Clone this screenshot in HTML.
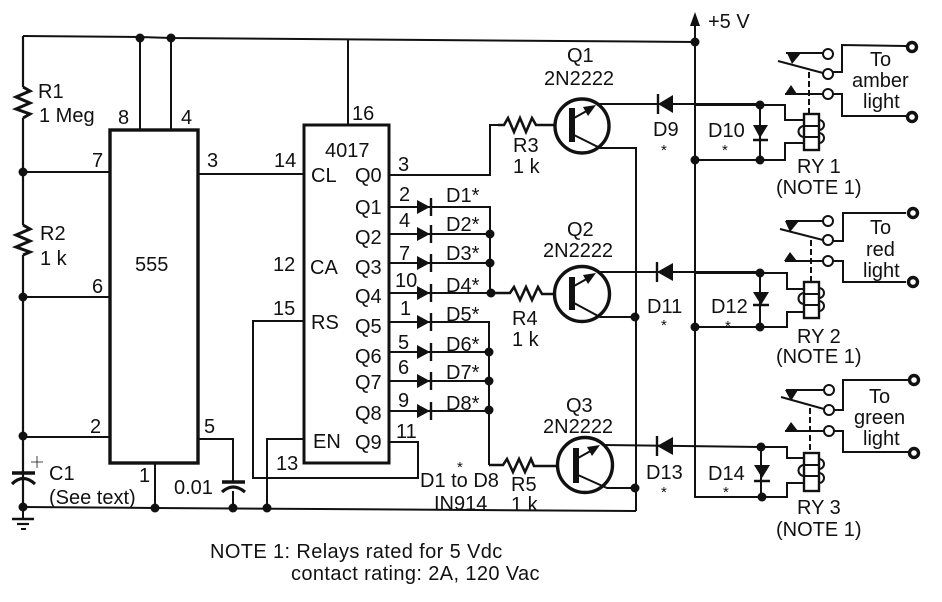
<!DOCTYPE html>
<html><head><meta charset="utf-8"><style>
html,body{margin:0;padding:0;background:#fff}
svg{display:block}
text{font-family:"Liberation Sans",sans-serif;font-size:20px;fill:#111}
.s{font-size:15px}
.n{letter-spacing:.38px}
</style></head><body>
<svg width="942" height="602" viewBox="0 0 942 602" xmlns="http://www.w3.org/2000/svg">
<g fill="none" stroke="#111" stroke-width="2">
<!-- rails -->
<path d="M23 36L140 37L171 38L695 42"/>
<path d="M23 36V87M23 118V225M23 255V507" stroke-width="2.2"/>
<path d="M23 507L155 508L636 511" />
<path d="M140 37V130M171 38V130M348 40V125"/>
<path d="M695 22V497H787V483H804" />
<path d="M636 147V511"/>
<!-- resistors -->
<path d="M23 87L30 91L16 97L30 103L16 109L30 114L23 118" stroke-width="3"/>
<path d="M23 225L30 229L16 235L30 241L16 247L30 252L23 255" stroke-width="3"/>
<path d="M498 125H504L508 118L514 132L520 118L526 132L532 118L536 125H556" stroke-width="2.6"/>
<path d="M490 293H510L514 287L520 300L526 287L532 300L538 287L542 294H556" stroke-width="2.6"/>
<path d="M489 465H503L507 459L513 472L519 459L525 472L531 459L534 466H558" stroke-width="2.6"/>
<!-- 555 -->
<rect x="110" y="130" width="88" height="333" stroke-width="3.4"/>
<path d="M23 172H110M23 297H110M23 437H110M198 174H304M198 439H233V481M233 491V508M155 463V508"/>
<!-- caps -->
<path d="M12 473H35" stroke-width="3.6"/>
<path d="M12 484Q23 473 35 484" stroke-width="3.2"/>
<path d="M222 482H245" stroke-width="3.6"/>
<path d="M222 492Q233 482 245 492" stroke-width="3.2"/>
<path d="M23 507V519" />
<path d="M12 519H34" stroke-width="2.6"/><path d="M17 524H29" stroke-width="2.2"/><path d="M21 529H26" stroke-width="2"/>
<path d="M31 462H43M37 456V468" stroke-width="0.8"/>
<!-- 4017 -->
<rect x="304" y="125" width="85" height="338" stroke-width="3"/>
<path d="M389 175H490V125H498"/>
<path d="M389 207H490V293M389 234H490M389 263H490M389 293H490"/>
<path d="M389 322H489V465M389 352H489M389 381H489M389 411H489"/>
<path d="M389 442H418V478H253V321H304"/>
<path d="M304 439H267V508"/>
<!-- transistors -->
<circle cx="582" cy="126" r="27" stroke-width="3.4"/>
<circle cx="582" cy="294" r="27.5" stroke-width="3.4"/>
<circle cx="585" cy="465" r="27.5" stroke-width="3.4"/>
<path d="M572 108V142M572 277V310M576 448V483" stroke-width="6"/>
<path d="M574 135L600 148H636M574 303L600 317H636M578 475L607 488H636"/>
<path d="M574 118L592 108M574 286L592 276M578 458L596 448"/>
<path d="M596 104H760M600 272H760M603 445L760 447"/>
<path d="M760 105V160M760 273V327M761 447V497"/>
</g>
<g fill="#111" stroke="none">
<!-- arrow -->
<path d="M695 12L700 26H690Z"/>
<!-- transistor arrows -->
<path d="M596 105L583 107L588 116Z"/>
<path d="M596 273L583 275L588 284Z"/>
<path d="M600 445L587 447L592 456Z"/>
<!-- 4017 diodes -->
<path d="M417 200L430 207L417 214Z M417 227L430 234L417 241Z M417 256L430 263L417 270Z M417 286L430 293L417 300Z M417 315L430 322L417 329Z M417 345L430 352L417 359Z M417 374L430 381L417 388Z M417 404L430 411L417 418Z"/>
<!-- D9 D11 D13 -->
<path d="M658 104L673 95V113Z M657 272L673 263V281Z M657 446L673 437V455Z"/>
<!-- D10 12 14 -->
<path d="M753 125H768L760 138Z M753 292H769L761 305Z M754 465H770L762 478Z"/>
<!-- dots -->
<circle cx="140" cy="38" r="4.5"/><circle cx="171" cy="38" r="4.5"/><circle cx="695" cy="42" r="4.5"/>
<circle cx="23" cy="172" r="4.5"/><circle cx="23" cy="297" r="4.5"/><circle cx="23" cy="436" r="4.5"/><circle cx="23" cy="507" r="4.5"/>
<circle cx="155" cy="508" r="4.5"/><circle cx="233" cy="508" r="4.5"/><circle cx="267" cy="508" r="4.5"/>
<circle cx="490" cy="234" r="4.5"/><circle cx="490" cy="263" r="4.5"/><circle cx="491" cy="293" r="4.5"/>
<circle cx="489" cy="352" r="4.5"/><circle cx="489" cy="381" r="4.5"/><circle cx="489" cy="410" r="4.5"/>
<circle cx="635" cy="317" r="4.5"/><circle cx="635" cy="488" r="4.5"/>
<circle cx="695" cy="160" r="4.5"/><circle cx="695" cy="327" r="4.5"/>
<circle cx="760" cy="105" r="4.5"/><circle cx="760" cy="160" r="4.5"/>
<circle cx="760" cy="273" r="4.5"/><circle cx="760" cy="327" r="4.5"/>
<circle cx="761" cy="447" r="4.5"/><circle cx="762" cy="497" r="4.5"/>
</g>
<g fill="none" stroke="#111" stroke-width="2.4">
<!-- diode bars -->
<path d="M431 198V216M431 225V243M431 254V272M431 284V302M431 313V331M431 343V361M431 372V390M431 402V420"/>
<path d="M658 94V114M657 262V282M657 436V456"/>
<path d="M753 140H768M753 305H769M754 481H770"/>
</g>
<g fill="none" stroke="#111" stroke-width="2">
<!-- relay wiring -->
<path d="M695 105H785V120H804M695 160H785V143H804"/>
<path d="M695 273H787V289H804M695 327H787V312H804"/>
<path d="M761 447H787V458H804"/>
<!-- relay 1 -->
<rect x="804" y="114" width="15" height="36" stroke-width="2.4"/>
<path d="M804 126H819M804 137H819"/>
<path d="M819 120A5 5 0 0 1 819 130M819 133A5 5 0 0 1 819 143M804 126A5 5 0 0 0 804 137"/>
<path d="M809 72V114" stroke-dasharray="6 3"/>
<path d="M778 61L823 73M786 53H823M785 94H823M833 94H842V116H906M833 72H842V45L906 46"/>
<circle cx="828" cy="54" r="5"/><circle cx="828" cy="74" r="5"/><circle cx="828" cy="94" r="5"/>
<!-- relay 2 -->
<rect x="804" y="282" width="15" height="36" stroke-width="2.4"/>
<path d="M804 294H819M804 305H819"/>
<path d="M819 288A5 5 0 0 1 819 298M819 301A5 5 0 0 1 819 311M804 293A5 5 0 0 0 804 304"/>
<path d="M811 240V282" stroke-dasharray="6 3"/>
<path d="M780 229L823 240M786 221H823M785 261H823M833 261H843V282H906M833 241H843V213L906 213"/>
<circle cx="828" cy="221" r="5"/><circle cx="828" cy="240" r="5"/><circle cx="828" cy="261" r="5"/>
<!-- relay 3 -->
<rect x="804" y="453" width="15" height="38" stroke-width="2.4"/>
<path d="M804 465H819M804 476H819"/>
<path d="M819 459A5 5 0 0 1 819 469M819 473A5 5 0 0 1 819 483M804 465A5 5 0 0 0 804 476"/>
<path d="M810 408V453" stroke-dasharray="6 3"/>
<path d="M781 397L824 409M786 390H824M785 431H824M834 431H843V452H908M834 410H843V380L908 380"/>
<circle cx="829" cy="390" r="5"/><circle cx="829" cy="410" r="5"/><circle cx="829" cy="431" r="5"/>
</g>
<g fill="#111">
<path d="M787 53H801L792 64Z M785 94H797L791 85Z M785 221H799L790 232Z M784 261H797L790 252Z M785 390H798L791 401Z M785 431H798L791 422Z"/>
</g>
<g fill="#fff" stroke="#111" stroke-width="3.4">
<circle cx="912" cy="47" r="4.5"/><circle cx="912" cy="117" r="4.5"/>
<circle cx="913" cy="213" r="4.5"/><circle cx="913" cy="282" r="4.5"/>
<circle cx="914" cy="380" r="4.5"/><circle cx="914" cy="453" r="4.5"/>
</g>
<!-- labels: 555 side -->
<text x="38" y="98">R1</text><text x="39" y="122">1 Meg</text>
<text x="40" y="240">R2</text><text x="40" y="265">1 k</text>
<text x="118" y="124">8</text><text x="181" y="124">4</text>
<text x="92" y="167">7</text><text x="207" y="167">3</text><text x="274" y="167">14</text>
<text x="135" y="271">555</text><text x="273" y="271">12</text>
<text x="92" y="293">6</text><text x="273" y="315">15</text>
<text x="90" y="433">2</text><text x="204" y="433">5</text><text x="139" y="482">1</text>
<text x="49" y="480">C1</text><text x="49" y="504">(See text)</text>
<text x="174" y="494">0.01</text><text x="276" y="470">13</text>
<!-- 4017 -->
<text x="325" y="157">4017</text><text x="352" y="120">16</text>
<text x="311" y="182">CL</text><text x="355" y="182">Q0</text>
<text x="355" y="214">Q1</text><text x="355" y="244">Q2</text>
<text x="310" y="274">CA</text><text x="355" y="274">Q3</text>
<text x="355" y="303">Q4</text><text x="311" y="329">RS</text>
<text x="355" y="333">Q5</text><text x="355" y="363">Q6</text>
<text x="355" y="389">Q7</text><text x="355" y="420">Q8</text>
<text x="313" y="448">EN</text><text x="355" y="449">Q9</text>
<text x="398" y="171">3</text><text x="399" y="201">2</text><text x="399" y="227">4</text>
<text x="399" y="260">7</text><text x="395" y="287">10</text><text x="400" y="315">1</text>
<text x="398" y="349">5</text><text x="398" y="374">6</text><text x="398" y="407">9</text>
<text x="396" y="438">11</text>
<text x="446" y="202">D1*</text><text x="446" y="231">D2*</text><text x="446" y="260">D3*</text>
<text x="446" y="292">D4*</text><text x="446" y="321">D5*</text><text x="446" y="351">D6*</text>
<text x="446" y="379">D7*</text><text x="446" y="410">D8*</text>
<text x="420" y="487">D1 to D8</text><text class="s" x="457" y="472">*</text>
<text x="434" y="510">IN914</text>
<!-- transistors -->
<text x="513" y="152">R3</text><text x="513" y="173">1 k</text>
<text x="512" y="325">R4</text><text x="512" y="346">1 k</text>
<text x="511" y="491">R5</text><text x="511" y="511">1 k</text>
<text x="567" y="62">Q1</text><text x="544" y="85">2N2222</text>
<text x="567" y="236">Q2</text><text x="543" y="257">2N2222</text>
<text x="566" y="412">Q3</text><text x="543" y="433">2N2222</text>
<text x="653" y="136">D9</text><text class="s" x="661" y="155">*</text>
<text x="647" y="313">D11</text><text class="s" x="661" y="330">*</text>
<text x="646" y="479">D13</text><text class="s" x="661" y="497">*</text>
<text x="708" y="137">D10</text><text class="s" x="722" y="155">*</text>
<text x="711" y="313">D12</text><text class="s" x="725" y="331">*</text>
<text x="708" y="480">D14</text><text class="s" x="723" y="497">*</text>
<!-- relays -->
<text x="708" y="28">+5 V</text>
<text x="797" y="173">RY 1</text><text x="776" y="194">(NOTE 1)</text>
<text x="797" y="343">RY 2</text><text x="776" y="363">(NOTE 1)</text>
<text x="797" y="514">RY 3</text><text x="776" y="536">(NOTE 1)</text>
<text x="870" y="66">To</text><text x="852" y="87">amber</text><text x="863" y="108">light</text>
<text x="870" y="234">To</text><text x="866" y="256">red</text><text x="863" y="277">light</text>
<text x="869" y="403">To</text><text x="854" y="424">green</text><text x="863" y="445">light</text>
<!-- note -->
<text class="n" x="210" y="558">NOTE 1: Relays rated for 5 Vdc</text>
<text class="n" x="291" y="580">contact rating: 2A, 120 Vac</text>
</svg>
</body></html>
